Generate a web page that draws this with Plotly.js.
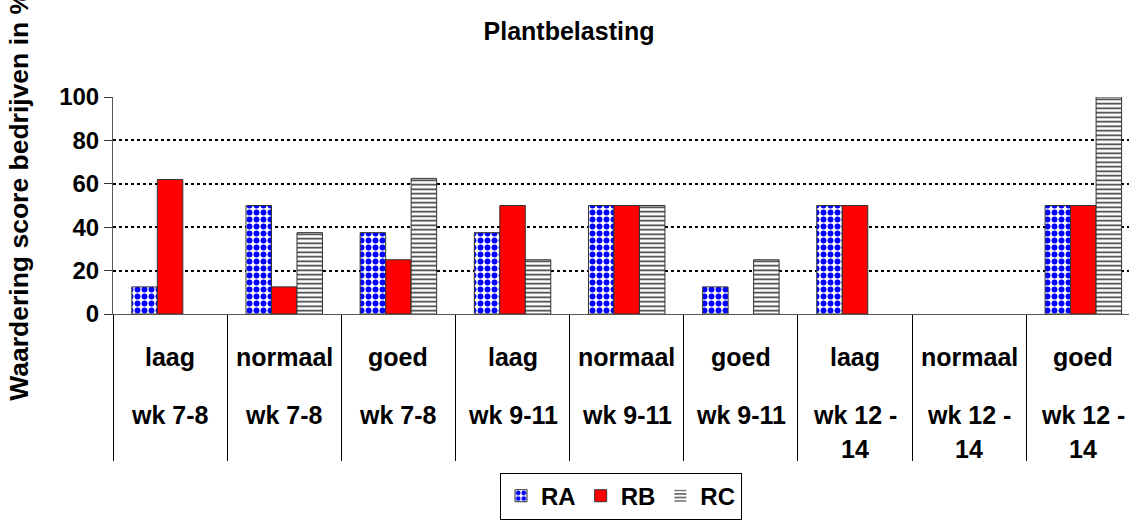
<!DOCTYPE html>
<html>
<head>
<meta charset="utf-8">
<script src="https://cdn.plot.ly/plotly-3.0.1.min.js"></script>
<style>html,body{margin:0;padding:0;background:#fff;}#chart{width:1129px;height:520px;}</style>
</head>
<body>
<div id="chart"></div>
<script>
var levels = ["laag", "normaal", "goed", "laag", "normaal", "goed", "laag", "normaal", "goed"];
var weeksLine1 = ["wk 7-8", "wk 7-8", "wk 7-8", "wk 9-11", "wk 9-11", "wk 9-11", "wk 12 -", "wk 12 -", "wk 12 -"];
var weeksLine2 = ["", "", "", "", "", "", "14", "14", "14"];
var categories = [0, 1, 2, 3, 4, 5, 6, 7, 8];
var RA = [12.5, 50, 37.5, 37.5, 50, 12.5, 50, 0, 50];
var RB = [62, 12.5, 25, 50, 50, 0, 50, 0, 50];
var RC = [0, 37.5, 62.5, 25, 50, 25, 0, 0, 100];
var yTicks = [0, 20, 40, 60, 80, 100];

var FONT = "Arial, 'Liberation Sans', sans-serif";
function outline(vals) {
  return {color: "#333333", width: vals.map(function (v) { return v > 0 ? 1 : 0; })};
}
var boundaries = categories.map(function (c) { return c - 0.5; }).concat([categories[categories.length - 1] + 0.5]);

var traces = [
  {type: "bar", name: "RA", x: categories, y: RA,
   marker: {color: "#ffffff", line: outline(RA),
            pattern: {shape: ".", fgcolor: "#0000ff", bgcolor: "#ffffff", size: 7, solidity: 0.55}}},
  {type: "bar", name: "RB", x: categories, y: RB,
   marker: {color: "#ff0000", line: outline(RB)}},
  {type: "bar", name: "RC", x: categories, y: RC,
   marker: {color: "#ffffff", line: outline(RC),
            pattern: {shape: "-", fgcolor: "#333333", bgcolor: "#ffffff", size: 4.5, solidity: 0.35}}}
];

var annotations = [];
var lblFont = {family: FONT, size: 25, color: "#000", weight: "bold"};
categories.forEach(function (c, i) {
  annotations.push({x: c, xref: "x", y: -0.2, yref: "paper", text: levels[i], showarrow: false,
    yanchor: "middle", font: lblFont});
  annotations.push({x: c, xref: "x", y: -0.465, yref: "paper", text: weeksLine1[i], showarrow: false,
    yanchor: "middle", font: lblFont});
  if (weeksLine2[i]) {
    annotations.push({x: c, xref: "x", y: -0.62, yref: "paper", text: weeksLine2[i], showarrow: false,
      yanchor: "middle", font: lblFont});
  }
});
annotations.push({x: -0.0925, xref: "paper", y: 0.545, yref: "paper", textangle: -90,
  text: "Waardering score bedrijven in %", showarrow: false,
  xanchor: "center", yanchor: "middle", font: {family: FONT, size: 26.5, color: "#000", weight: "bold"}});

var layout = {
  width: 1129, height: 520,
  margin: {l: 113, r: 0, t: 97, b: 200},
  paper_bgcolor: "#ffffff", plot_bgcolor: "#ffffff",
  font: {family: FONT, color: "#000", weight: "bold"},
  title: {text: "Plantbelasting", x: 0.504, xref: "container", xanchor: "center",
          y: 0.94, yref: "container", yanchor: "middle", font: {family: FONT, size: 25, color: "#000", weight: "bold"}},
  barmode: "group", bargap: 0.33, bargroupgap: 0,
  showlegend: true,
  legend: {orientation: "h", x: 0.5, xanchor: "center", y: -0.731, yanchor: "top",
           bordercolor: "#000", borderwidth: 1, font: {family: FONT, size: 24, color: "#000", weight: "bold"},
           traceorder: "normal", itemwidth: 30},
  xaxis: {range: [-0.5, 8.4], tickvals: boundaries, showticklabels: false,
          ticks: "outside", ticklen: 146, tickcolor: "#000", tickwidth: 1,
          showline: true, linecolor: "#555", linewidth: 1, showgrid: false, zeroline: false, fixedrange: true},
  yaxis: {range: [0, 100], tickvals: yTicks, ticks: "outside", ticklen: 8, tickcolor: "#333",
          showline: true, linecolor: "#555", linewidth: 1,
          showgrid: true, gridcolor: "#000", griddash: "3px,3px", gridwidth: 2, zeroline: false,
          tickfont: {family: FONT, size: 24, color: "#000", weight: "bold"}, fixedrange: true},
  annotations: annotations
};

Plotly.newPlot("chart", traces, layout, {displayModeBar: false, staticPlot: true});
</script>
</body>
</html>
